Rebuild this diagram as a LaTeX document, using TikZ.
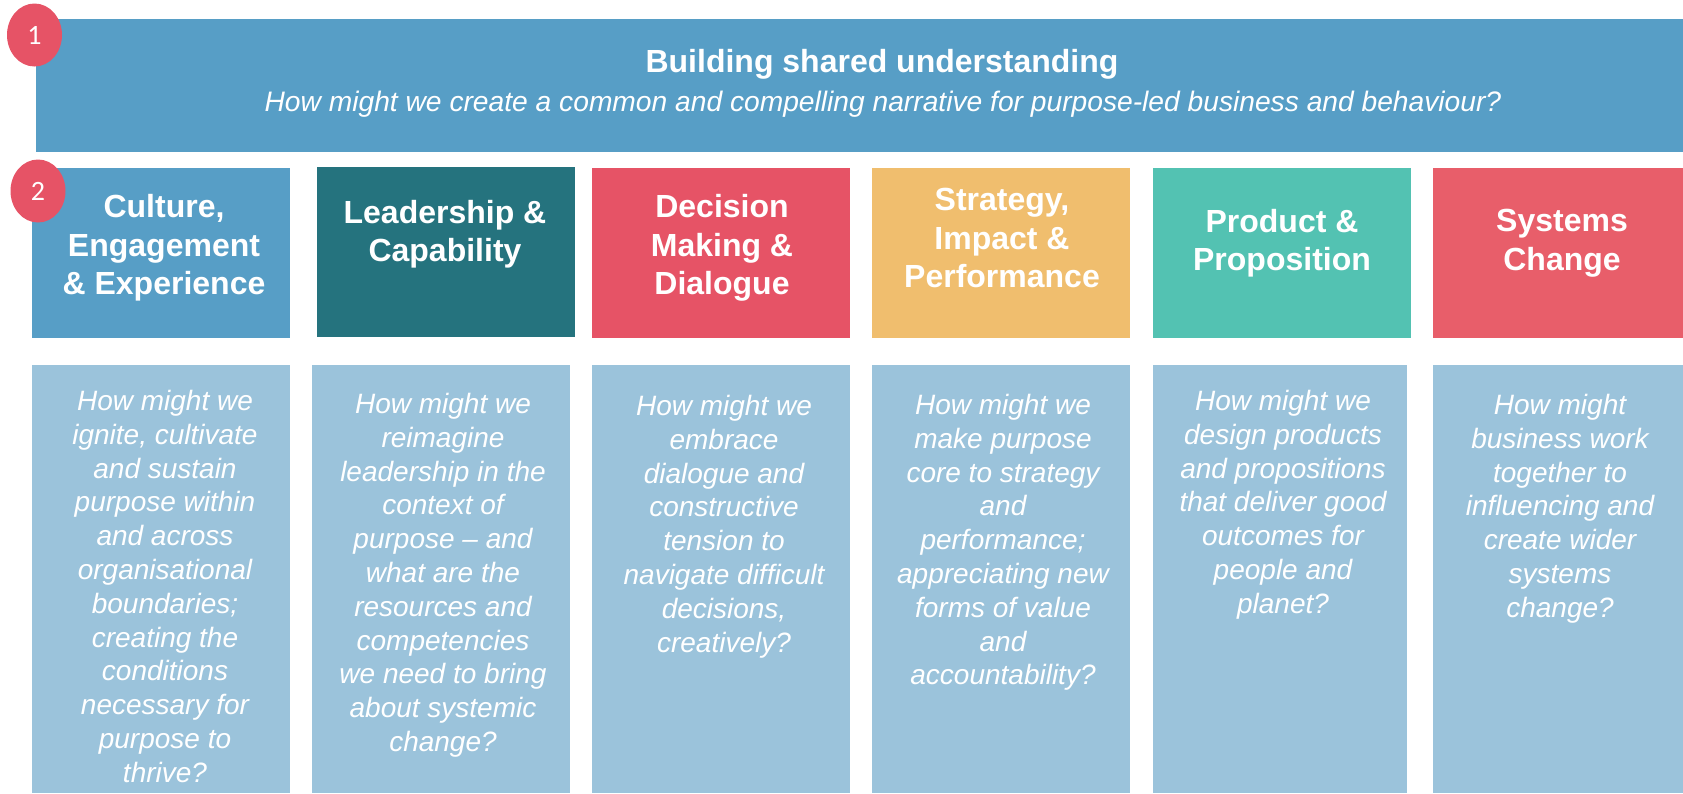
\documentclass[tikz,border=0pt]{standalone}
\usepackage{fontspec}
\setmainfont{Liberation Sans}
\newfontfamily\numfont{Carlito}
\usetikzlibrary{shapes.geometric}
\definecolor{hdrblue}{RGB}{87,158,198}
\definecolor{tealbox}{RGB}{37,115,126}
\definecolor{redbox}{RGB}{230,83,102}
\definecolor{sandbox}{RGB}{240,190,110}
\definecolor{mintbox}{RGB}{83,194,178}
\definecolor{coralbox}{RGB}{232,94,106}
\definecolor{paleblue}{RGB}{155,195,219}
\begin{document}
\begin{tikzpicture}[x=1pt,y=-1pt,
    box/.style={rectangle,inner sep=0pt,outer sep=0pt,anchor=north west},
    topbox/.style={box,minimum width=258pt,minimum height=170pt},
    lowbox/.style={box,fill=paleblue,minimum height=428pt},
    boxtitle/.style={text=white,align=center,inner sep=0pt,
      font=\bfseries\fontsize{32}{38.5}\selectfont},
    question/.style={text=white,align=center,inner sep=0pt,anchor=north,
      font=\itshape\fontsize{28}{33.8}\selectfont},
    badge/.style={ellipse,fill=redbox,text=white,inner sep=0pt,
      minimum width=55pt,minimum height=63pt,font=\numfont\fontsize{28}{28}\selectfont}]
  \useasboundingbox (0,0) rectangle (1683,793);

  % header
  \node[box,fill=hdrblue,minimum width=1647pt,minimum height=133pt] (header) at (36,19) {};
  \node[text=white,anchor=base,inner sep=0pt,font=\bfseries\fontsize{32}{38}\selectfont]
    (headtitle) at (882,72) {Building shared understanding};
  \node[text=white,anchor=base,inner sep=0pt,font=\itshape\fontsize{28.2}{34}\selectfont]
    (headquestion) at (883,111) {How might we create a common and compelling narrative for purpose-led business and behaviour?};

  % theme boxes
  \node[topbox,fill=hdrblue] (culture) at (32,168) {};
  \node[topbox,fill=tealbox] (leader) at (317,167) {};
  \node[topbox,fill=redbox] (decision) at (592,168) {};
  \node[topbox,fill=sandbox] (strategy) at (872,168) {};
  \node[topbox,fill=mintbox] (product) at (1153,168) {};
  \node[topbox,fill=coralbox,minimum width=250pt] (systems) at (1433,168) {};

  \node[boxtitle] (culturetitle) at (164,248) {Culture,\\Engagement\\\& Experience};
  \node[boxtitle] (leadertitle) at (445,234) {Leadership \&\\Capability};
  \node[boxtitle] (decisiontitle) at (722,248) {Decision\\Making \&\\Dialogue};
  \node[boxtitle] (strategytitle) at (1002,238) {Strategy,\\Impact \&\\Performance};
  \node[boxtitle] (producttitle) at (1282,243) {Product \&\\Proposition};
  \node[boxtitle] (systemstitle) at (1562,243) {Systems\\Change};

  % question boxes
  \node[lowbox,minimum width=258pt] (cultureq) at (32,365) {};
  \node[lowbox,minimum width=258pt] (leaderq) at (312,365) {};
  \node[lowbox,minimum width=258pt] (decisionq) at (592,365) {};
  \node[lowbox,minimum width=258pt] (strategyq) at (872,365) {};
  \node[lowbox,minimum width=254pt] (productq) at (1153,365) {};
  \node[lowbox,minimum width=250pt] (systemsq) at (1433,365) {};

  \node[question] (culturetext) at (165,390) {How might we\\ignite, cultivate\\and sustain\\purpose within\\and across\\organisational\\boundaries;\\creating the\\conditions\\necessary for\\purpose to\\thrive?};
  \node[question] (leadertext) at (443,393) {How might we\\reimagine\\leadership in the\\context of\\purpose -- and\\what are the\\resources and\\competencies\\we need to bring\\about systemic\\change?};
  \node[question] (decisiontext) at (724,395) {How might we\\embrace\\dialogue and\\constructive\\tension to\\navigate difficult\\decisions,\\creatively?};
  \node[question] (strategytext) at (1003,394) {How might we\\make purpose\\core to strategy\\and\\performance;\\appreciating new\\forms of value\\and\\accountability?};
  \node[question] (producttext) at (1283,390) {How might we\\design products\\and propositions\\that deliver good\\outcomes for\\people and\\planet?};
  \node[question] (systemstext) at (1560,394) {How might\\business work\\together to\\influencing and\\create wider\\systems\\change?};

  % numbers
  \node[badge] (one) at (34.5,35) {1};
  \node[badge] (two) at (38,191) {2};
\end{tikzpicture}
\end{document}
